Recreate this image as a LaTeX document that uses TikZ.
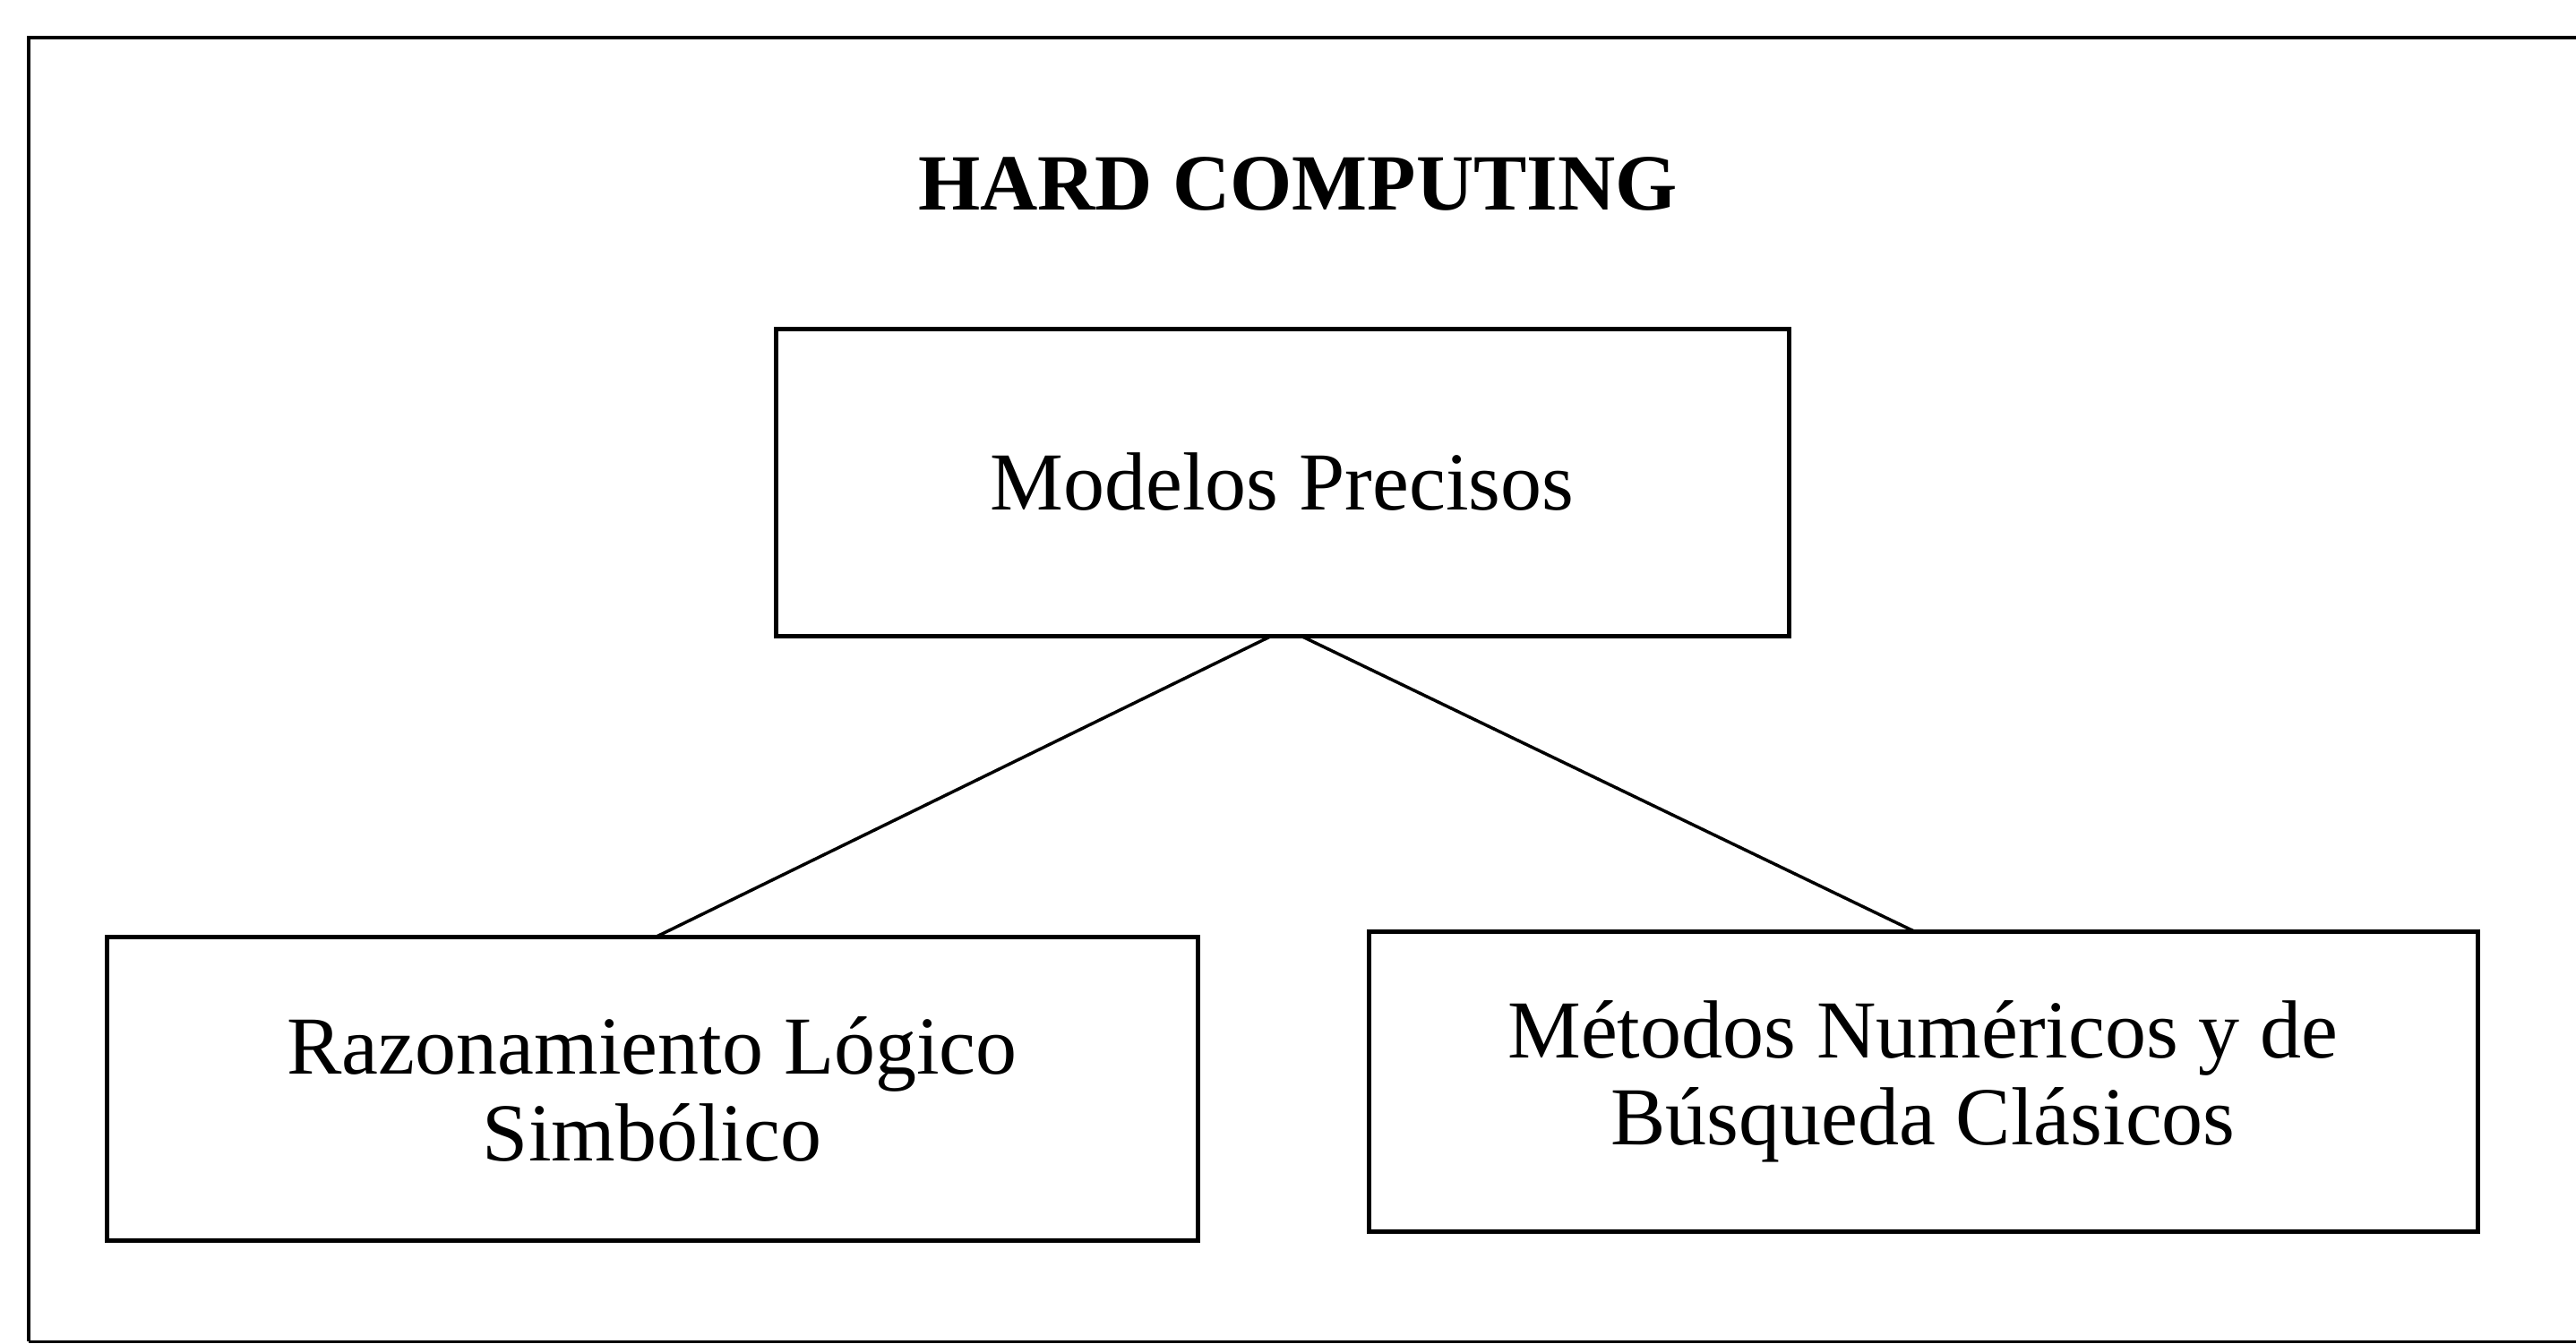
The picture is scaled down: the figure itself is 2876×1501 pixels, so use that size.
\documentclass[tikz,border=0pt]{standalone}
\usepackage{fontspec}
\setmainfont{Liberation Serif}
\usetikzlibrary{calc}

\tikzset{
  box/.style={draw=black, line width=5pt, rectangle, inner sep=0pt, outer sep=0pt,
              align=center, font=\fontsize{92}{97}\selectfont, text=black},
  link/.style={draw=black, line width=3.5pt},
  frame/.style={draw=black, line width=4.5pt},
  heading/.style={inner sep=0pt, font=\fontsize{89}{89}\selectfont\bfseries, text=black}
}

\begin{document}
\begin{tikzpicture}[x=1pt, y=-1pt]
  % page area and white background
  \useasboundingbox (0,0) rectangle (2876,1501);
  \fill[white] (0,0) rectangle (2876,1501);

  % outer frame, running past the right and bottom edges
  \begin{scope}
    \clip (0,0) rectangle (2876,1501);
    \draw[frame] (32,1498) -- (32,42) -- (2900,42);
    \draw[black, line width=3pt] (32,1498) -- (2900,1498);
  \end{scope}

  % title
  \node[heading, anchor=base] (title) at (1449,234) {HARD COMPUTING};

  % boxes
  \node[box, minimum width=1131pt, minimum height=343pt] (m) at (1431.5,538.5) {Modelos Precisos};
  \node[box, minimum width=1218pt, minimum height=339pt] (r) at (728,1216)
        {Razonamiento Lógico\\Simbólico};
  \node[box, minimum width=1238pt, minimum height=335pt] (t) at (2147,1208)
        {Métodos Numéricos y de\\Búsqueda Clásicos};

  % connectors
  \draw[link] ([xshift=-11.5pt]m.south) -- ([xshift=4pt]r.north);
  \draw[link] ([xshift=20.5pt]m.south) -- ([xshift=-9pt]t.north);
\end{tikzpicture}
\end{document}
